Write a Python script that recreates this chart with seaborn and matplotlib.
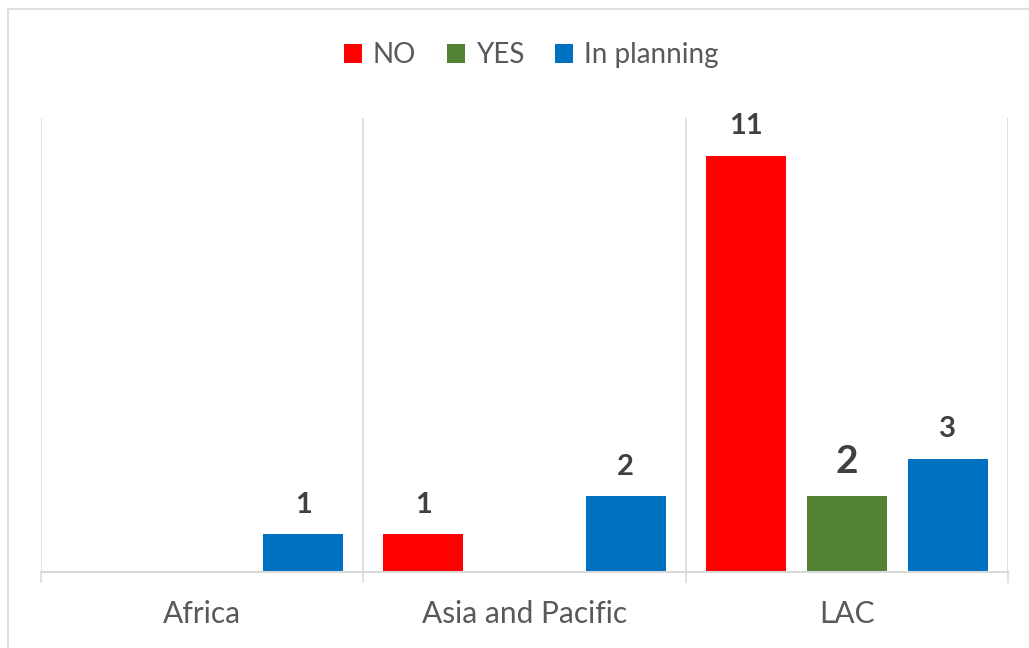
import matplotlib
matplotlib.use("Agg")
import matplotlib.pyplot as plt
from matplotlib.patches import Rectangle, Patch
from matplotlib.ticker import FixedLocator
import pandas as pd
import seaborn as sns

# Data
regions = ["Africa", "Asia and Pacific", "LAC"]
statuses = ["NO", "YES", "In planning"]
no_counts = [0, 1, 11]
yes_counts = [0, 0, 2]
planning_counts = [1, 2, 3]
colors = ["#FF0000", "#548235", "#0070C0"]

rows = []
for series, vals in zip(statuses, [no_counts, yes_counts, planning_counts]):
    for reg, v in zip(regions, vals):
        rows.append({"region": reg, "status": series, "count": v})
df = pd.DataFrame(rows)

sns.set_style("white")
plt.rcParams["font.family"] = ["Lato", "DejaVu Sans"]

fig = plt.figure(figsize=(10.29, 6.48), dpi=100)
ax = fig.add_axes([41 / 1029, 76 / 648, 967 / 1029, 454 / 648])

sns.barplot(data=df, x="region", y="count", hue="status", order=regions,
            hue_order=statuses, palette=colors, width=0.941, gap=0.208,
            linewidth=0, saturation=1, ax=ax, legend=False)

ax.set_xlim(-0.5, 2.5)
ax.set_ylim(0, 12)
ax.set_xlabel("")
ax.set_ylabel("")
ax.set_yticks([])

# Category separators and tick marks
grid_col = "#D9D9D9"
ax.xaxis.set_minor_locator(FixedLocator([-0.5, 0.5, 1.5, 2.5]))
ax.grid(False)
ax.grid(which="minor", axis="x", color=grid_col, linewidth=1.1)
ax.tick_params(axis="x", which="minor", length=8, width=1.1, color=grid_col,
               direction="out", bottom=True)
ax.tick_params(axis="x", which="major", length=0, pad=20, labelsize=21.5,
               labelcolor="#595959")
for s in ["left", "right", "top"]:
    ax.spines[s].set_visible(False)
ax.spines["bottom"].set_color(grid_col)
ax.spines["bottom"].set_linewidth(1.5)

# Value labels on non-zero bars
for container, series in zip(ax.containers, statuses):
    for bar in container:
        h = bar.get_height()
        if h and h > 0:
            big = (series == "YES")
            ax.annotate(f"{int(h)}", (bar.get_x() + bar.get_width() / 2, h),
                        xytext=(0, 17 if big else 15.5), textcoords="offset points",
                        ha="center", va="baseline", fontweight="bold",
                        fontsize=28 if big else 21, color="#404040")

# Legend
handles = [Patch(facecolor=c, edgecolor="none") for c in colors]
fig.legend(handles, statuses, loc="center", bbox_to_anchor=(531 / 1029, 1 - 55 / 648),
           ncol=3, frameon=False, fontsize=20, handlelength=0.65, handleheight=0.65,
           handletextpad=0.4, columnspacing=1.1, labelcolor="#595959")

# Outer chart border
fig.patches.append(Rectangle((8 / 1029, -0.2), 1.2, 1.2 - 9 / 648,
                             transform=fig.transFigure, fill=False,
                             edgecolor=grid_col, linewidth=1.2))

fig.savefig("out.png", dpi=100, facecolor="white")
